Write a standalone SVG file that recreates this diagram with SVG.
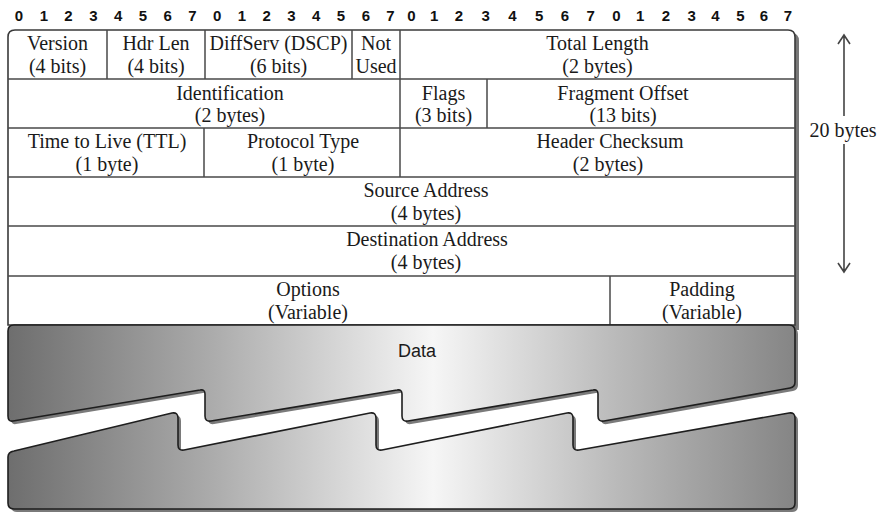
<svg xmlns="http://www.w3.org/2000/svg" xmlns:xlink="http://www.w3.org/1999/xlink" width="880" height="516" viewBox="0 0 880 516">
<style>
  .f { font-family: "Liberation Serif", "Times New Roman", serif; font-size: 20px; fill: #1a1a1a; text-anchor: middle; }
  .bit { font-family: "Liberation Sans", Arial, sans-serif; font-size: 15px; font-weight: bold; fill: #111; text-anchor: middle; }
  .grid { stroke: #4a4a4a; stroke-width: 1.5; fill: none; }
  .shape { fill: url(#dg); stroke: #1e1e1e; stroke-width: 1.6; }
  .shadow { fill: #7a7a7a; }
  .arrow { stroke: #444; stroke-width: 1.6; fill: none; }
</style>
<defs>
  <linearGradient id="dg" gradientUnits="userSpaceOnUse" x1="8" y1="0" x2="795" y2="0">
    <stop offset="0" stop-color="#6e6e6e"/>
    <stop offset="0.25" stop-color="#a9a9a9"/>
    <stop offset="0.54" stop-color="#f6f6f6"/>
    <stop offset="0.78" stop-color="#b8b8b8"/>
    <stop offset="1" stop-color="#858585"/>
  </linearGradient>
  <path id="topData" d="M14,325 H789 Q795,325 795,331 V382 Q795,387 790,388 L604,421 Q598,422 598,416 V394 Q598,389 593,390 L408,421 Q402,422 402,416 V394 Q402,389 397,390 L211,421 Q205,422 205,416 V394 Q205,389 200,390 L13,421 Q8,422 8,416 V331 Q8,325 14,325 Z"/>
  <path id="botData" d="M8,457 Q8,452 14,451 L172,413 Q178,412 178,418 V445 Q178,451 184,450 L370,413 Q376,412 376,418 V445 Q376,451 382,450 L567,413 Q573,412 573,418 V445 Q573,451 579,450 L789,413 Q795,412 795,418 V503 Q795,509 789,509 H14 Q8,509 8,503 Z"/>
</defs>

<g id="bit-ruler">
  <text class="bit" x="19" y="21">0</text><text class="bit" x="43.8" y="21">1</text><text class="bit" x="68.5" y="21">2</text><text class="bit" x="93.3" y="21">3</text>
  <text class="bit" x="118.1" y="21">4</text><text class="bit" x="142.9" y="21">5</text><text class="bit" x="167.6" y="21">6</text><text class="bit" x="192.4" y="21">7</text>
  <text class="bit" x="217.2" y="21">0</text><text class="bit" x="241.9" y="21">1</text><text class="bit" x="266.7" y="21">2</text><text class="bit" x="291.5" y="21">3</text>
  <text class="bit" x="316.2" y="21">4</text><text class="bit" x="341" y="21">5</text><text class="bit" x="365.8" y="21">6</text><text class="bit" x="390.5" y="21">7</text>
  <text class="bit" x="411.3" y="21">0</text><text class="bit" x="434.1" y="21">1</text><text class="bit" x="458.8" y="21">2</text><text class="bit" x="485.6" y="21">3</text>
  <text class="bit" x="512.4" y="21">4</text><text class="bit" x="539.1" y="21">5</text><text class="bit" x="564.9" y="21">6</text><text class="bit" x="590.7" y="21">7</text>
  <text class="bit" x="616.4" y="21">0</text><text class="bit" x="640.2" y="21">1</text><text class="bit" x="666" y="21">2</text><text class="bit" x="691.7" y="21">3</text>
  <text class="bit" x="715.5" y="21">4</text><text class="bit" x="740.3" y="21">5</text><text class="bit" x="764" y="21">6</text><text class="bit" x="787.8" y="21">7</text>
</g>

<g id="header-frame">
  <path d="M15,33 H791 Q799,33 799,41 V330 H15 Z" fill="#777"/>
  <path d="M8,325 V37 Q8,30 15,30 H788 Q795,30 795,37 V325 Z" fill="#fff" stroke="#3a3a3a" stroke-width="1.6"/>
  <path class="grid" d="M8,79 H795 M8,128 H795 M8,177 H795 M8,226 H795 M8,276 H795"/>
  <path class="grid" d="M107,30 V79 M205,30 V79 M352,30 V79 M400,30 V79 M400,79 V128 M487,79 V128 M204,128 V177 M400,128 V177 M610,276 V325"/>
</g>

<g id="version"><text class="f" x="57.5" y="50">Version</text><text class="f" x="57.5" y="73">(4 bits)</text></g>
<g id="hdr-len"><text class="f" x="156" y="50">Hdr Len</text><text class="f" x="156" y="73">(4 bits)</text></g>
<g id="diffserv"><text class="f" x="278.5" y="50">DiffServ (DSCP)</text><text class="f" x="278.5" y="73">(6 bits)</text></g>
<g id="not-used"><text class="f" x="376" y="50">Not</text><text class="f" x="376" y="73">Used</text></g>
<g id="total-length"><text class="f" x="597.5" y="50">Total Length</text><text class="f" x="597.5" y="73">(2 bytes)</text></g>

<g id="identification"><text class="f" x="230" y="100">Identification</text><text class="f" x="230" y="122">(2 bytes)</text></g>
<g id="flags"><text class="f" x="443.5" y="100">Flags</text><text class="f" x="443.5" y="122">(3 bits)</text></g>
<g id="fragment-offset"><text class="f" x="623" y="100">Fragment Offset</text><text class="f" x="623" y="122">(13 bits)</text></g>

<g id="ttl"><text class="f" x="107" y="148">Time to Live (TTL)</text><text class="f" x="107" y="171">(1 byte)</text></g>
<g id="protocol"><text class="f" x="303" y="148">Protocol Type</text><text class="f" x="303" y="171">(1 byte)</text></g>
<g id="checksum"><text class="f" x="610" y="148">Header Checksum</text><text class="f" x="608" y="171">(2 bytes)</text></g>

<g id="source-address"><text class="f" x="426" y="197">Source Address</text><text class="f" x="426" y="220">(4 bytes)</text></g>
<g id="destination-address"><text class="f" x="427" y="246">Destination Address</text><text class="f" x="426" y="269">(4 bytes)</text></g>

<g id="options"><text class="f" x="308" y="296">Options</text><text class="f" x="308" y="319">(Variable)</text></g>
<g id="padding"><text class="f" x="702" y="296">Padding</text><text class="f" x="702" y="319">(Variable)</text></g>

<g id="data">
  <use xlink:href="#botData" class="shadow" transform="translate(3,3)"/>
  <use xlink:href="#botData" class="shape"/>
  <use xlink:href="#topData" class="shadow" transform="translate(3,3)"/>
  <use xlink:href="#topData" class="shape"/>
  <text x="417" y="357" font-family="Liberation Sans, Arial, sans-serif" font-size="18" fill="#1a1a1a" text-anchor="middle">Data</text>
</g>

<g id="connectors">
  <path class="arrow" d="M844,35 V116 M838,44 L844,35 L850,44"/>
  <path class="arrow" d="M844,144 V272 M838,263 L844,272 L850,263"/>
</g>
<g id="size-label">
  <text class="f" x="843" y="137">20 bytes</text>
</g>
</svg>
